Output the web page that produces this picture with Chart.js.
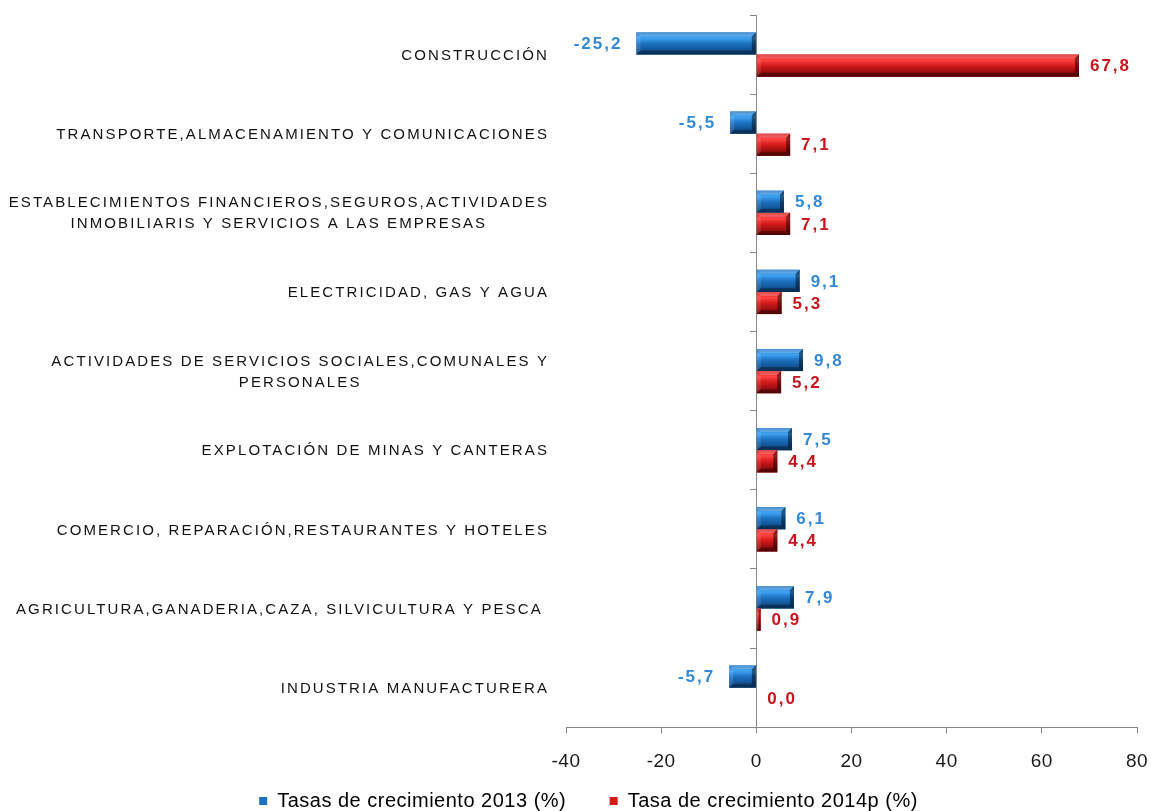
<!DOCTYPE html>
<html>
<head>
<meta charset="utf-8">
<script src="https://cdn.jsdelivr.net/npm/chart.js@4.4.1/dist/chart.umd.min.js"></script>
<style>
  html, body { margin: 0; padding: 0; background: #fff; }
  #wrap { width: 1151px; height: 811px; position: relative; }
</style>
</head>
<body>
<div id="wrap"><canvas id="growthChart"></canvas></div>
<script>
// Sectores (de arriba hacia abajo)
const CATEGORIES = [
    ['CONSTRUCCIÓN'],
    ['TRANSPORTE,ALMACENAMIENTO Y COMUNICACIONES'],
    ['ESTABLECIMIENTOS FINANCIEROS,SEGUROS,ACTIVIDADES', 'INMOBILIARIS Y SERVICIOS A LAS EMPRESAS'],
    ['ELECTRICIDAD, GAS Y AGUA'],
    ['ACTIVIDADES DE SERVICIOS SOCIALES,COMUNALES Y', 'PERSONALES'],
    ['EXPLOTACIÓN DE MINAS Y CANTERAS'],
    ['COMERCIO, REPARACIÓN,RESTAURANTES Y HOTELES'],
    ['AGRICULTURA,GANADERIA,CAZA, SILVICULTURA Y PESCA '],
    ['INDUSTRIA MANUFACTURERA'],
];

const SERIES_NAMES = ['Tasas de crecimiento 2013 (%)', 'Tasa de crecimiento 2014p (%)'];
const RATES_2013 = [-25.2, -5.5, 5.8, 9.1, 9.8, 7.5, 6.1, 7.9, -5.7];
const RATES_2014P = [67.8, 7.1, 7.1, 5.3, 5.2, 4.4, 4.4, 0.9, 0.0];

const X_MIN = -40;
const X_MAX = 80;
const X_STEP = 20;

const BLUE = { base: '#1D72C2', light: '#3FA3F2', dark: '#0B3F75', label: '#3389D6' };
const RED = { base: '#D41A1A', light: '#FF4242', dark: '#6E0707', label: '#C8141E' };
const PALETTE = [BLUE, RED];

const fmt = (v) => v.toFixed(1).replace('.', ',');

// global text spacing (the original looks horizontally stretched)
const spacingPlugin = {
    id: 'spacing',
    beforeUpdate(chart) { chart.ctx.letterSpacing = '0.5px'; },
    beforeDraw(chart) { chart.ctx.letterSpacing = '0.5px'; },
};

// bevelled "3D" bars painted over the library's bar rectangles
const bevelPlugin = {
    id: 'bevel',
    afterDatasetsDraw(chart) {
        const ctx = chart.ctx;
        chart.data.datasets.forEach((ds, di) => {
            const meta = chart.getDatasetMeta(di);
            const pal = PALETTE[di];
            meta.data.forEach((bar) => {
                const l = Math.min(bar.x, bar.base);
                const r = Math.max(bar.x, bar.base);
                const t = bar.y - bar.height / 2;
                const b = bar.y + bar.height / 2;
                const w = r - l, h = b - t;
                if (w < 0.5) return;
                ctx.save();
                const g = ctx.createLinearGradient(0, t, 0, b);
                g.addColorStop(0, pal.base);
                g.addColorStop(0.25, pal.light);
                g.addColorStop(0.5, pal.base);
                g.addColorStop(1, pal.dark);
                ctx.fillStyle = g;
                ctx.fillRect(l, t, w, h);
                const e = Math.min(4, w / 2, h / 2);
                // top lighter
                ctx.fillStyle = 'rgba(255,255,255,0.22)';
                ctx.beginPath();
                ctx.moveTo(l, t); ctx.lineTo(r, t); ctx.lineTo(r - e, t + e); ctx.lineTo(l + e, t + e);
                ctx.closePath(); ctx.fill();
                // bottom darker
                ctx.fillStyle = 'rgba(0,0,0,0.3)';
                ctx.beginPath();
                ctx.moveTo(l, b); ctx.lineTo(r, b); ctx.lineTo(r - e, b - e); ctx.lineTo(l + e, b - e);
                ctx.closePath(); ctx.fill();
                // right end dark
                ctx.fillStyle = 'rgba(0,0,0,0.45)';
                ctx.beginPath();
                ctx.moveTo(r, t); ctx.lineTo(r, b); ctx.lineTo(r - e, b - e); ctx.lineTo(r - e, t + e);
                ctx.closePath(); ctx.fill();
                // left end light
                ctx.fillStyle = 'rgba(255,255,255,0.12)';
                ctx.beginPath();
                ctx.moveTo(l, t); ctx.lineTo(l, b); ctx.lineTo(l + e, b - e); ctx.lineTo(l + e, t + e);
                ctx.closePath(); ctx.fill();
                ctx.restore();
            });
        });
    }
};

// value labels next to each bar
const valueLabelPlugin = {
    id: 'valueLabels',
    afterDatasetsDraw(chart) {
        const ctx = chart.ctx;
        ctx.save();
        ctx.font = 'bold 17px "Liberation Sans", Arial, sans-serif';
        ctx.letterSpacing = '2px';
        ctx.textBaseline = 'middle';
        chart.data.datasets.forEach((ds, di) => {
            const meta = chart.getDatasetMeta(di);
            ctx.fillStyle = PALETTE[di].label;
            meta.data.forEach((bar, i) => {
                const v = ds.data[i];
                if (v < 0) {
                    ctx.textAlign = 'right';
                    ctx.fillText(fmt(v), bar.x - 14, bar.y + 1);
                } else {
                    ctx.textAlign = 'left';
                    ctx.fillText(fmt(v), bar.x + 11, bar.y + 1);
                }
            });
        });
        ctx.restore();
    }
};

// category names left of the plot, multi-line blocks centred on themselves
const categoryLabelPlugin = {
    id: 'categoryLabels',
    afterDraw(chart) {
        const ctx = chart.ctx;
        const yScale = chart.scales.y;
        const right = chart.chartArea.left - 17;
        ctx.save();
        ctx.font = '15px "Liberation Sans", Arial, sans-serif';
        ctx.letterSpacing = '2.1px';
        ctx.fillStyle = '#111';
        ctx.textBaseline = 'middle';
        ctx.textAlign = 'center';
        const lineH = 21;
        chart.data.labels.forEach((lines, i) => {
            const yc = yScale.getPixelForValue(i);
            const blockW = Math.max(...lines.map(s => ctx.measureText(s).width));
            const cx = right - blockW / 2;
            lines.forEach((s, k) => {
                const y = yc + (k - (lines.length - 1) / 2) * lineH + 1;
                ctx.fillText(s, cx, y);
            });
        });
        ctx.restore();
    }
};

const datasets = [RATES_2013, RATES_2014P].map((vals, di) => ({
    label: SERIES_NAMES[di],
    data: vals,
    backgroundColor: PALETTE[di].base,
    borderWidth: 0,
    categoryPercentage: 0.56,
    barPercentage: 1.0,
}));

new Chart(document.getElementById('growthChart'), {
    type: 'bar',
    data: { labels: CATEGORIES, datasets },
    plugins: [spacingPlugin, bevelPlugin, valueLabelPlugin, categoryLabelPlugin],
    options: {
        indexAxis: 'y',
        responsive: true,
        maintainAspectRatio: false,
        animation: false,
        devicePixelRatio: 1,
        layout: { padding: { left: 40, top: 15, right: 14, bottom: -10 } },
        scales: {
            x: {
                min: X_MIN,
                max: X_MAX,
                ticks: {
                    stepSize: X_STEP,
                    color: '#1a1a1a',
                    font: { family: '"Liberation Sans", Arial, sans-serif', size: 19 },
                    padding: 17,
                },
                grid: { drawOnChartArea: false, drawTicks: true, tickLength: 6, color: '#868686' },
                border: { display: true, color: '#868686', width: 1 },
                // the "80" label may overhang the plot, as in the original
                afterFit(scale) { scale.paddingRight = 0; },
            },
            // category axis on the left only reserves room for the sector names
            y: {
                position: 'left',
                ticks: { display: false },
                grid: { display: false },
                border: { display: false },
                afterFit(scale) { scale.width = 526; },
            },
            // the same categories drawn along the zero line
            yZero: {
                type: 'category',
                position: { x: 0 },
                ticks: { display: false },
                grid: { drawOnChartArea: false, drawTicks: true, tickLength: 6, color: '#868686', offset: true },
                border: { display: true, color: '#868686', width: 1 },
            }
        },
        plugins: {
            legend: {
                display: true,
                position: 'bottom',
                labels: {
                    color: '#000',
                    font: { family: '"Liberation Sans", Arial, sans-serif', size: 20 },
                    boxWidth: 8,
                    boxHeight: 8,
                    padding: 1,
                    // wider gap after the first entry, as in the original legend
                    generateLabels(chart) {
                        const items = Chart.defaults.plugins.legend.labels.generateLabels(chart);
                        items.forEach((it, i) => { if (i < items.length - 1) it.text += '       '; });
                        return items;
                    }
                }
            },
            tooltip: { enabled: false },
        }
    }
});
</script>
</body>
</html>
